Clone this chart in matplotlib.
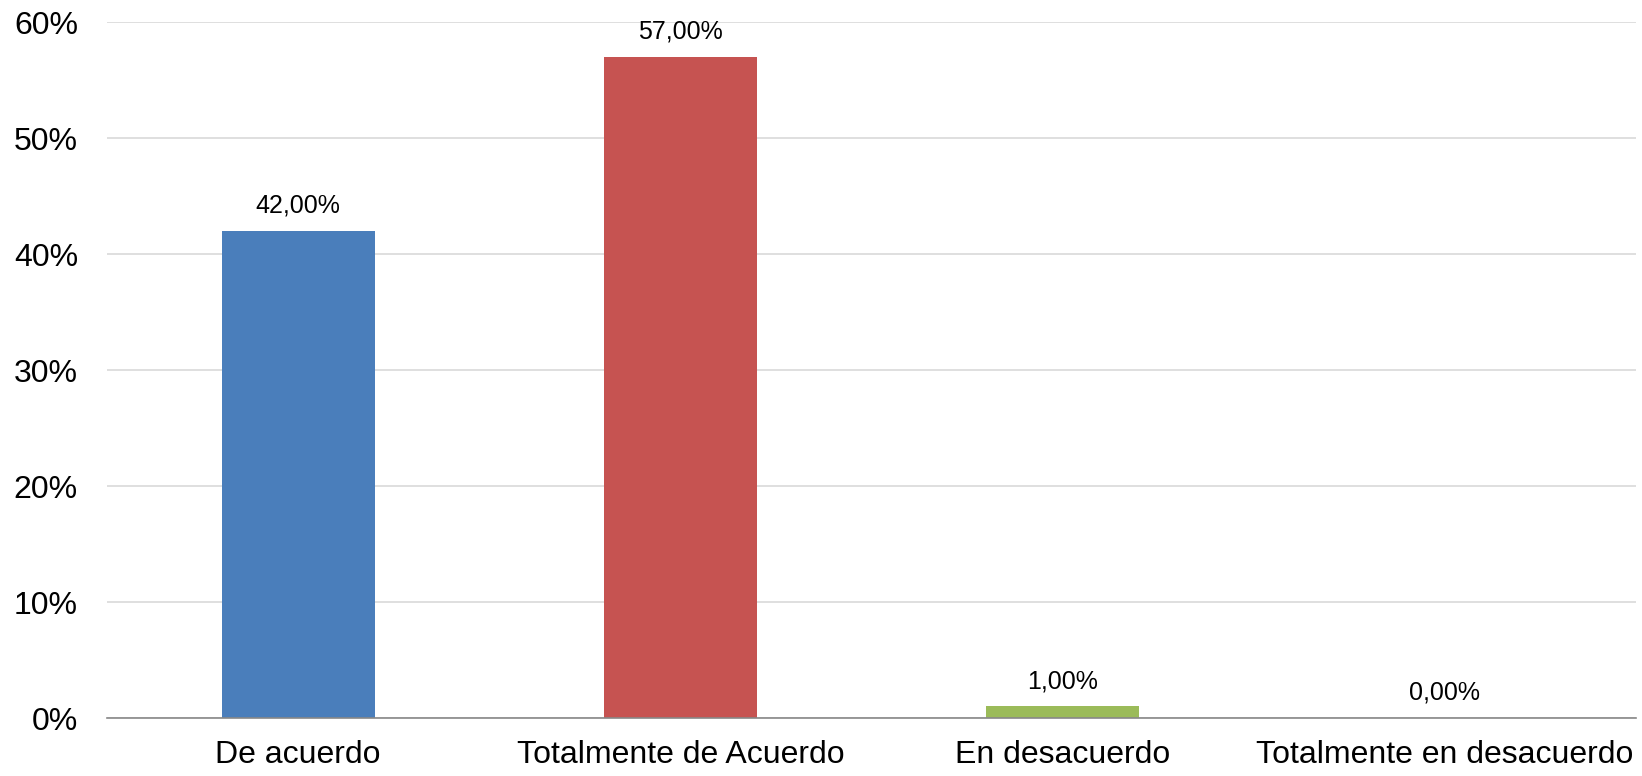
import matplotlib
matplotlib.use("Agg")
import matplotlib.pyplot as plt
from matplotlib.ticker import FuncFormatter

plt.rcParams['font.family'] = ['Liberation Sans', 'DejaVu Sans']

# data
categories = ["De acuerdo", "Totalmente de Acuerdo", "En desacuerdo", "Totalmente en desacuerdo"]
values = [42.0, 57.0, 1.0, 0.0]
colors = ["#4A7EBB", "#C65351", "#9BBB59", "#7E62A1"]
yticks = [0, 10, 20, 30, 40, 50, 60]

fig = plt.figure(figsize=(16.42, 7.76), dpi=100)
ax = fig.add_axes([0.0652, 0.0747, 0.9311, 0.8969])

x = list(range(len(categories)))
bars = ax.bar(x, values, width=0.4, color=colors, zorder=3)

# value labels above bars
for xi, v in zip(x, values):
    label = f"{v:.2f}%".replace(".", ",")
    ax.annotate(label, (xi, v), xytext=(0, 13), textcoords="offset points",
                ha="center", va="baseline", fontsize=18, color="black")

ax.set_xlim(-0.5, len(categories) - 0.5)
ax.set_ylim(0, 60)
ax.set_yticks(yticks)
ax.yaxis.set_major_formatter(FuncFormatter(lambda v, p: f"{v:.0f}%"))
ax.set_xticks(x)
ax.set_xticklabels(categories)

ax.tick_params(axis="y", length=0, pad=21, labelsize=23)
ax.tick_params(axis="x", length=0, pad=16, labelsize=23)

ax.grid(axis="y", color="#D9D9D9", linewidth=1.2, zorder=0)
for s in ["left", "right", "top"]:
    ax.spines[s].set_visible(False)
ax.spines["bottom"].set_color("#888888")
ax.spines["bottom"].set_linewidth(1.2)
ax.spines["bottom"].set_zorder(4)

fig.savefig("out.png", dpi=100)
